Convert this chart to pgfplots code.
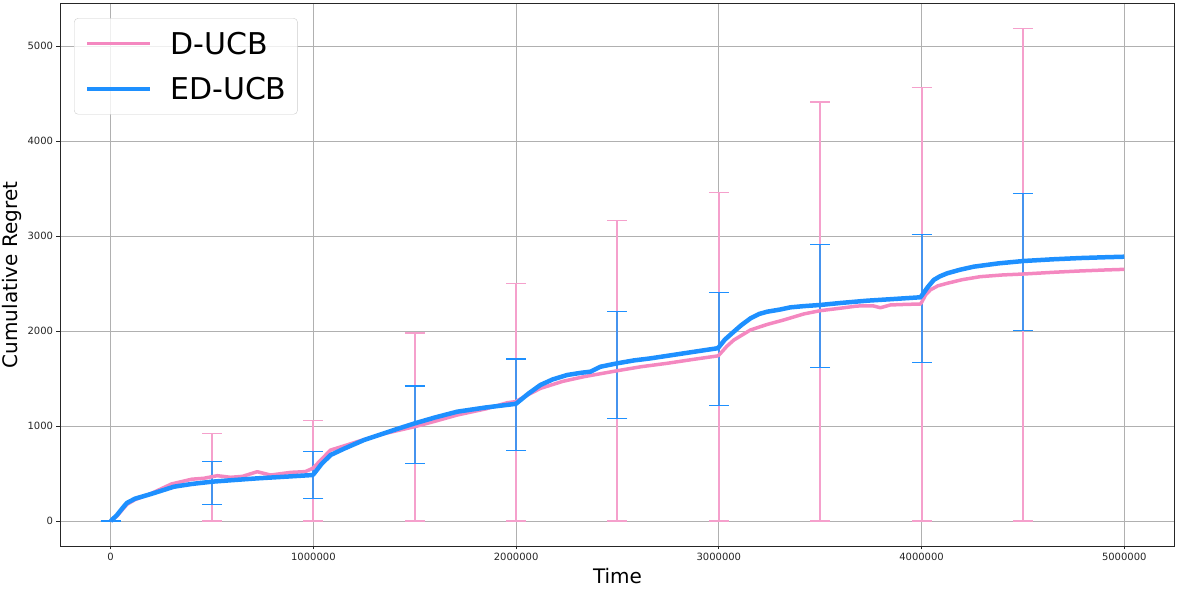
\documentclass[border=0pt]{standalone}
\usepackage{pgfplots}
\pgfplotsset{compat=1.18}
\usepackage{fontspec}
\setmainfont{DejaVu Sans}
\definecolor{pinkline}{HTML}{F488C0}
\definecolor{pinkbar}{HTML}{F5A0CC}
\definecolor{blueline}{HTML}{1E90FF}
\definecolor{bluebar}{HTML}{4693EE}
\definecolor{gridc}{HTML}{B0B0B0}
\begin{document}
\begin{tikzpicture}
\begin{axis}[
  at={(0,0)}, anchor=south west,
  scale only axis, width=1115bp, height=542bp,
  xmin=-250000, xmax=5250000, ymin=-263, ymax=5442,
  xtick={0,1000000,2000000,3000000,4000000,5000000},
  ytick={0,1000,2000,3000,4000,5000},
  scaled x ticks=false, scaled y ticks=false,
  /pgf/number format/fixed, /pgf/number format/1000 sep={},
  /pgf/number format/assume math mode=true,
  tick label style={font=\fontsize{10bp}{12bp}\selectfont, text=black!85},
  tick align=outside, major tick length=3.5bp,
  tick style={black!85, line width=0.8bp},
  xtick pos=bottom, ytick pos=left,
  axis line style={black!85, line width=1bp},
  grid=major, major grid style={gridc, line width=0.8bp},
  xlabel={Time}, ylabel={Cumulative Regret},
  label style={font=\fontsize{20bp}{24bp}\selectfont},
  x label style={at={(axis description cs:0.5,-0.0554)}, anchor=center},
  y label style={at={(axis description cs:-0.043,0.5)}, anchor=center, rotate=0},
  legend style={at={(axis description cs:0.01256,0.974)}, anchor=north west,
    draw=black!20, rounded corners=4bp, fill=white, fill opacity=0.8, text opacity=1,
    font=\fontsize{30bp}{36bp}\selectfont, inner xsep=11bp, inner ysep=3bp,
    row sep=0bp, nodes={inner sep=0bp}},
  legend cell align=left,
  legend image code/.code={\draw[#1] (0bp,0bp) -- (63bp,0bp);
    \path[draw=none] (0bp,-22.5bp) rectangle (83bp,22.5bp);},
]
% error bars D-UCB
\addplot[draw=none, mark=none, forget plot,
  error bars/.cd, y dir=both, y explicit,
  error bar style={draw=pinkbar, line width=2bp},
  error mark options={rotate=90, mark size=10bp, draw=pinkbar, line width=1.2bp}]
  table[x=x, y=y, y error=e] {
x y e
0 0 0
500000 462.5 462.5
1000000 531 531
1500000 989.5 989.5
2000000 1251 1251
2500000 1581.5 1581.5
3000000 1731 1731
3500000 2205 2205
4000000 2283 2283
4500000 2593.5 2593.5
};
% error bars ED-UCB
\addplot[draw=none, mark=none, forget plot,
  error bars/.cd, y dir=both, y explicit,
  error bar style={draw=bluebar, line width=2bp},
  error mark options={rotate=90, mark size=10bp, draw=blueline, line width=1.2bp}]
  table[x=x, y=y, y error=e] {
x y e
0 0 0
500000 402.5 225.5
1000000 488 247
1500000 1014.5 406.5
2000000 1225.5 479.5
2500000 1645 563
3000000 1813.5 594.5
3500000 2266 647
4000000 2345 674
4500000 2726.5 722.5
};
% D-UCB curve
\addplot[pinkline, line width=3.5bp, mark=none, line join=round,
  legend image post style={line width=3bp}] coordinates {
(0,0) (30000,50) (60000,125) (80000,175) (120000,225) (200000,290) (300000,390)
(400000,440) (460000,450) (526000,477) (592000,460) (650000,470) (723000,519)
(789000,484) (888000,512) (960000,520) (986000,544) (1000000,560) (1040000,650)
(1085000,747) (1150000,790) (1216000,835) (1350000,920) (1500000,993)
(1600000,1050) (1710000,1116) (1850000,1180) (1956000,1245) (1997000,1256)
(2060000,1330) (2120000,1396) (2230000,1470) (2334000,1519) (2499000,1582)
(2620000,1625) (2745000,1660) (2870000,1700) (2992000,1737) (3000000,1745)
(3040000,1840) (3074000,1905) (3156000,2011) (3240000,2070) (3320000,2116)
(3420000,2180) (3500000,2214) (3600000,2240) (3682000,2263) (3760000,2265)
(3797000,2245) (3846000,2274) (3920000,2280) (3994000,2284) (4000000,2300)
(4020000,2380) (4043000,2432) (4080000,2475) (4126000,2502) (4200000,2540)
(4290000,2572) (4400000,2590) (4504000,2600) (4650000,2618) (4783000,2632)
(4900000,2642) (5000000,2649)
};
\addlegendentry{D-UCB}
% ED-UCB curve
\addplot[blueline, line width=4.5bp, mark=none, line join=round,
  legend image post style={line width=4bp}] coordinates {
(0,0) (30000,60) (60000,140) (80000,190) (120000,235) (200000,285) (312000,361)
(400000,390) (500000,414) (600000,430) (723000,449) (850000,465) (995000,484)
(1000000,490) (1040000,600) (1085000,695) (1150000,760) (1250000,853)
(1400000,960) (1500000,1028) (1600000,1090) (1710000,1151) (1850000,1195)
(1990000,1231) (2000000,1235) (2060000,1340) (2120000,1432) (2180000,1490)
(2252000,1537) (2320000,1560) (2367000,1572) (2416000,1624) (2499000,1660)
(2580000,1690) (2663000,1712) (2750000,1740) (2827000,1765) (2920000,1795)
(2992000,1818) (3000000,1830) (3030000,1910) (3074000,1993) (3110000,2060)
(3156000,2133) (3200000,2180) (3238000,2203) (3300000,2225) (3353000,2249)
(3420000,2262) (3500000,2274) (3600000,2295) (3731000,2319) (3850000,2335)
(3994000,2355) (4000000,2370) (4030000,2460) (4060000,2537) (4090000,2575)
(4126000,2607) (4190000,2645) (4257000,2677) (4380000,2712) (4504000,2737)
(4650000,2755) (4783000,2768) (4900000,2776) (5000000,2782)
};
\addlegendentry{ED-UCB}
\end{axis}
\pgfresetboundingbox
\path[use as bounding box] (-60bp,-44bp) rectangle (1118bp,546bp);
\end{tikzpicture}
\end{document}
